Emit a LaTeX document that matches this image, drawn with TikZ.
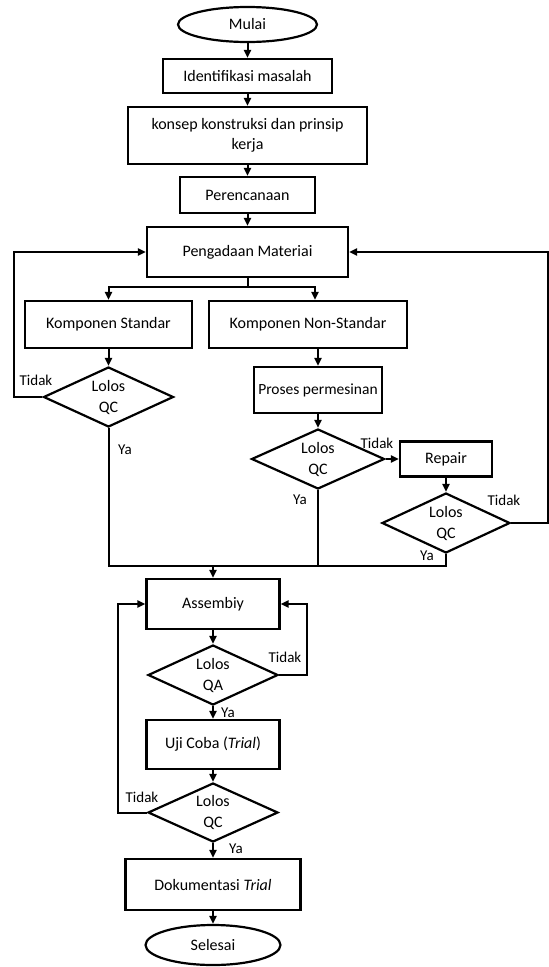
\documentclass[tikz,border=0pt]{standalone}
\usepackage{fontspec}
\setmainfont{Carlito}
\usetikzlibrary{shapes.geometric,arrows.meta,calc}
\begin{document}
\begin{tikzpicture}[x=1pt,y=-1pt,
 font=\fontsize{16}{20}\selectfont,
 box/.style={draw, line width=2.2pt, rectangle, inner sep=0pt, align=center},
 term/.style={draw, line width=2.2pt, ellipse, inner sep=0pt},
 dec/.style={draw, line width=2.2pt, diamond, inner sep=0pt, minimum width=130pt, minimum height=60pt},
 dtext/.style={align=center, inner sep=0pt, font=\fontsize{16}{21}\selectfont},
 line/.style={line width=2pt},
 arr/.style={line, -{Triangle[length=8pt,width=7pt]}},
 lab/.style={font=\fontsize{15}{18}\selectfont, inner sep=0pt}
]
\useasboundingbox (0,0) rectangle (549,967);

% nodes
\node[term, minimum width=139pt, minimum height=35pt] (mulai) at (247.5,24.5) {Mulai};
\node[box, minimum width=169pt, minimum height=34pt] (id) at (247.5,76) {Identifikasi masalah};
\node[box, minimum width=239pt, minimum height=57pt] (kon) at (247.5,135.5) {konsep konstruksi dan prinsip\\kerja};
\node[box, minimum width=135pt, minimum height=36pt] (per) at (247.5,195) {Perencanaan};
\node[box, minimum width=201pt, minimum height=50pt] (peng) at (247.5,252) {Pengadaan Materiai};
\node[box, minimum width=167pt, minimum height=47pt] (ks) at (108.5,324.5) {Komponen Standar};
\node[box, minimum width=198pt, minimum height=47pt] (kns) at (308,324.5) {Komponen Non-Standar};
\node[box, minimum width=128pt, minimum height=46pt, font=\fontsize{15.5}{19}\selectfont] (pro) at (318,390) {Proses permesinan};
\node[dec, label={[dtext]center:{Lolos\\QC}}] (d1) at (108.5,397) {};
\node[dec, minimum width=133pt, label={[dtext]center:{Lolos\\QC}}] (d2) at (318,459) {};
\node[box, minimum width=92pt, minimum height=35pt] (rep) at (446,459) {Repair};
\node[dec, minimum width=128pt, label={[dtext]center:{Lolos\\QC}}] (d3) at (446,523) {};
\node[box, minimum width=133pt, minimum height=50pt] (as) at (213,604) {Assembiy};
\node[dec, label={[dtext]center:{Lolos\\QA}}] (qa) at (213,675) {};
\node[box, minimum width=133pt, minimum height=49pt] (uji) at (213,744.5) {Uji Coba (\textit{Trial})};
\node[dec, minimum height=59pt, label={[dtext]center:{Lolos\\QC}}] (qc) at (213,812.5) {};
\node[box, minimum width=175pt, minimum height=51pt] (dok) at (213,884.5) {Dokumentasi \textit{Trial}};
\node[term, minimum width=135pt, minimum height=40pt] (sel) at (213,945) {Selesai};

% helper coordinates
\coordinate (sp) at (247.5,287);
\coordinate (lx) at (14,0);
\coordinate (rx) at (547.5,0);
\coordinate (m) at (213,566);
\coordinate (ax) at (307,0);
\coordinate (bx) at (118,0);

% connectors
\draw[arr] (mulai) -- (id);
\draw[arr] (id) -- (kon);
\draw[arr] (kon) -- (per);
\draw[arr] (per) -- (peng);
\draw[line] (peng.south) -- (sp);
\draw[arr] (sp) -| (ks.north);
\draw[arr] (sp) -| ([xshift=7pt]kns.north);
\draw[arr] (ks) -- (d1);
\draw[arr] (kns.south -| pro.north) -- (pro.north);
\draw[arr] (pro) -- (d2);
\draw[arr] (d1.west) -- (d1.west -| lx) -- (peng.west -| lx) -- (peng.west);
\draw[arr] (d2.east) -- (rep.west);
\draw[arr] (rep) -- (d3);
\draw[arr] (d3.east) -- (d3.east -| rx) -- (peng.east -| rx) -- (peng.east);
\draw[line] (d1.south) |- (m);
\draw[line] (d3.south) |- (m);
\draw[line] (d2.south) -- (d2.south |- m);
\draw[arr] (m) -- (as.north);
\draw[arr] (as) -- (qa);
\draw[arr] (qa.east) -- (qa.east -| ax) -- (as.east -| ax) -- (as.east);
\draw[arr] (qa) -- (uji);
\draw[arr] (uji) -- (qc);
\draw[arr] (qc.west) -- (qc.west -| bx) -- (as.west -| bx) -- (as.west);
\draw[arr] (qc) -- (dok);
\draw[arr] (dok) -- (sel);

% labels
\node[lab] (t1) at (36,380) {Tidak};
\node[lab] (y1) at (125,450) {Ya};
\node[lab] (t2) at (377,443) {Tidak};
\node[lab] (y2) at (300,500) {Ya};
\node[lab] (t3) at (504,500) {Tidak};
\node[lab] (y3) at (427,556) {Ya};
\node[lab] (t4) at (285,657) {Tidak};
\node[lab] (y4) at (228,713) {Ya};
\node[lab] (t5) at (142,797) {Tidak};
\node[lab] (y5) at (236,849) {Ya};
\end{tikzpicture}
\end{document}
